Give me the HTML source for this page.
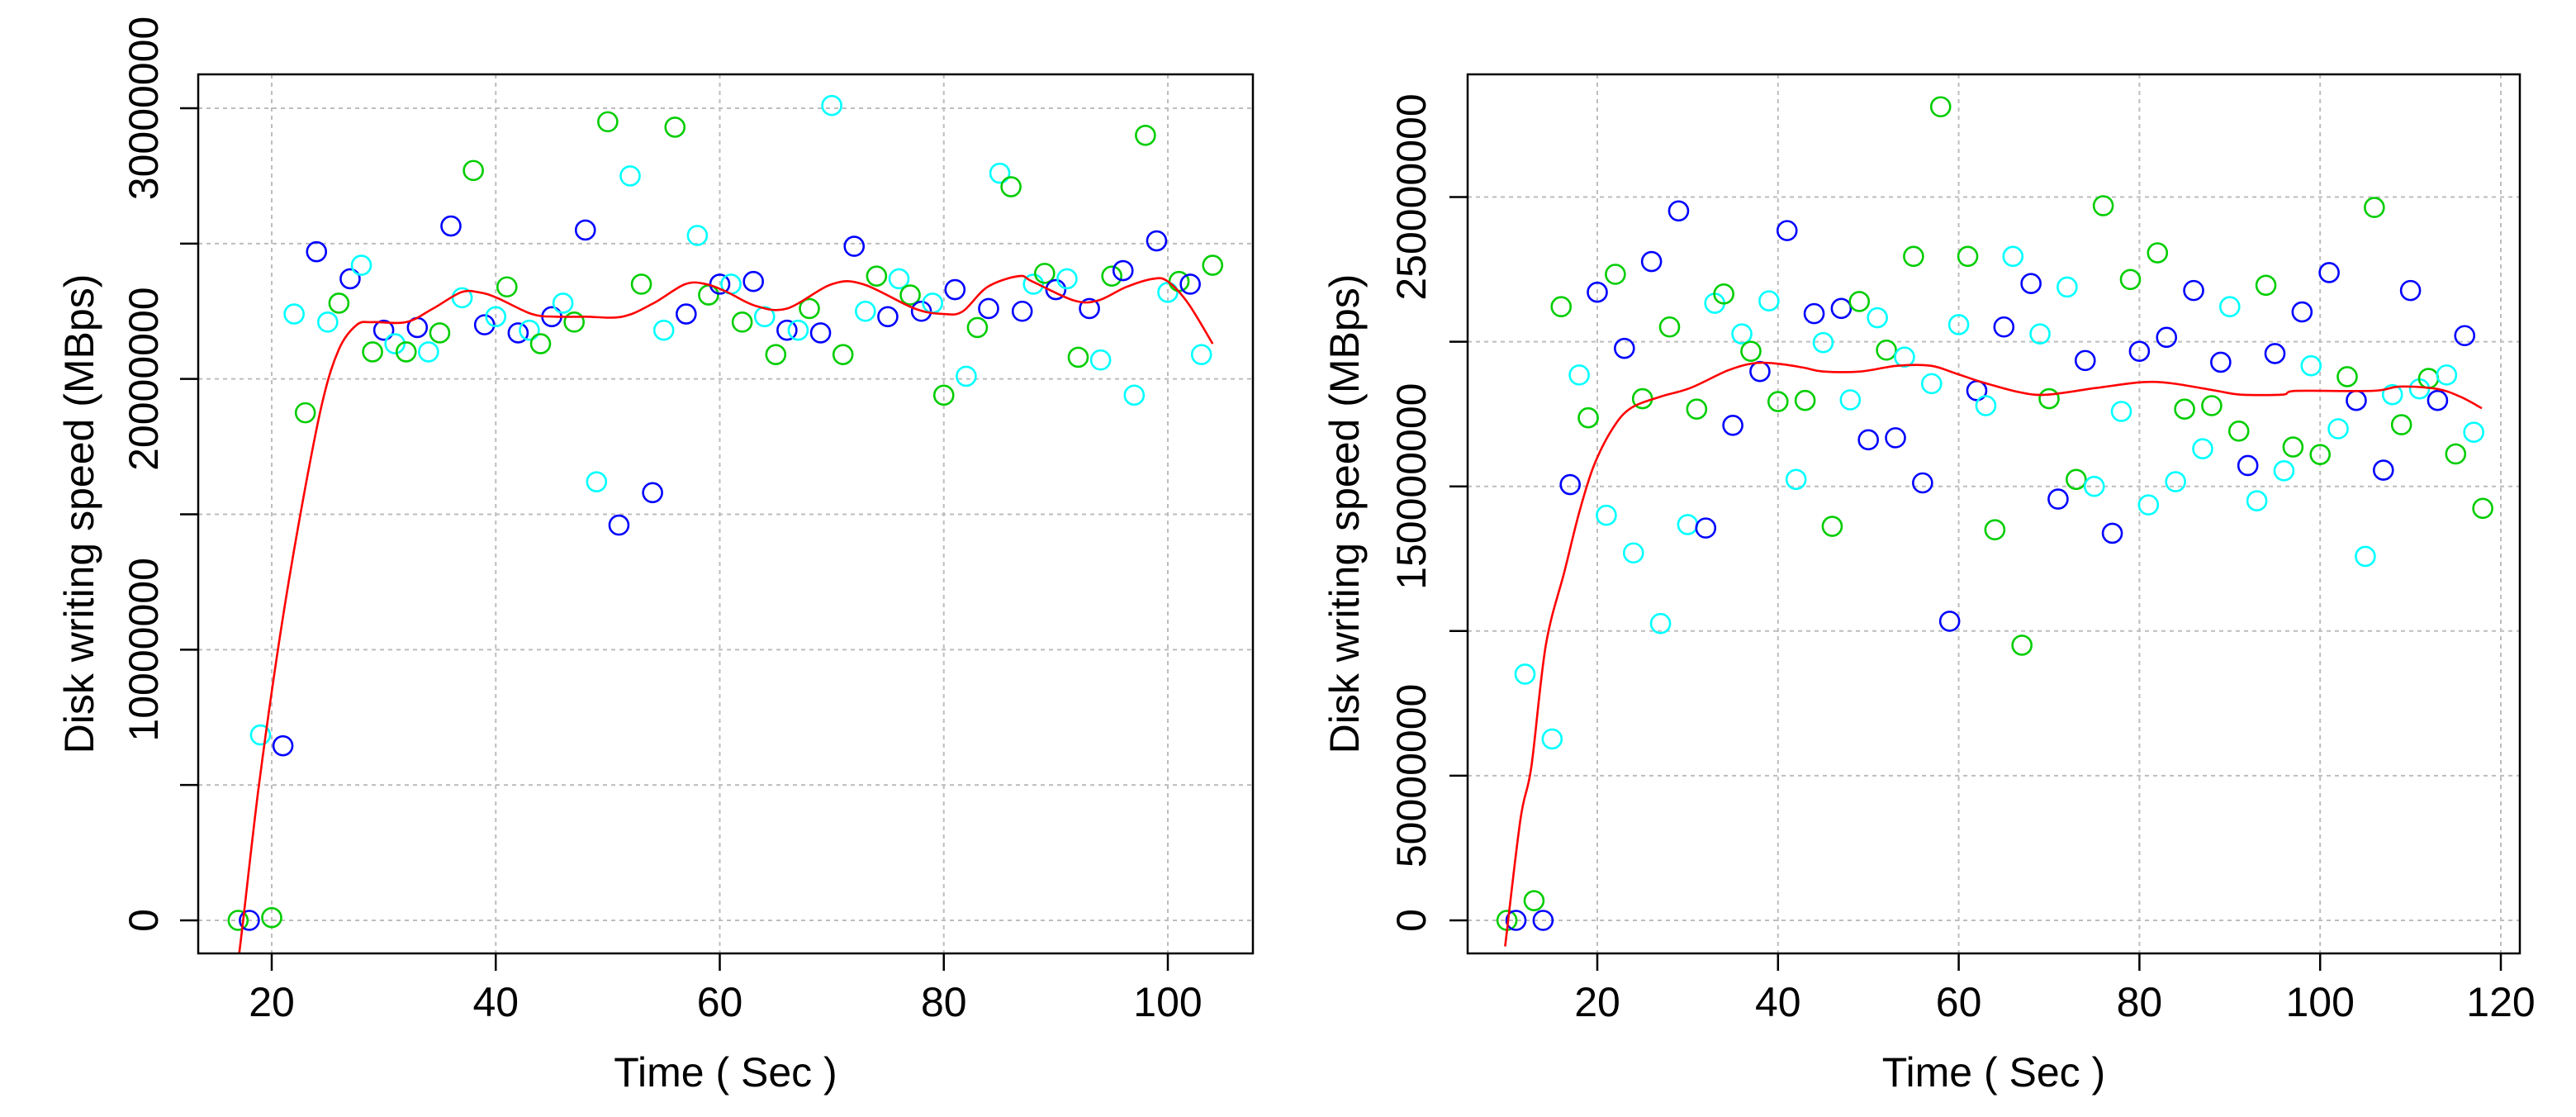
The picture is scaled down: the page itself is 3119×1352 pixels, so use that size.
<!DOCTYPE html>
<html><head><meta charset="utf-8"><style>
html,body{margin:0;padding:0;background:#fff;}
svg{display:block;font-family:"Liberation Sans",Arial,sans-serif;}
</style></head><body>
<svg id="fig" width="3119" height="1352" viewBox="0 0 3119 1352" xmlns="http://www.w3.org/2000/svg"></svg>
<script>
// ---- Left chart data ----
const leftX = [];
for (let t = 17; t <= 104; t++) leftX.push(t);
const leftY = [0,0,6.85,0.1,6.45,22.4,18.75,24.7,22.1,22.8,23.7,24.2,21.0,21.8,21.3,21.0,21.9,21.0,21.7,25.65,23.0,27.7,22.0,22.3,23.4,21.7,21.8,21.3,22.3,22.8,22.1,25.5,16.2,29.5,14.6,27.5,23.5,15.8,21.8,29.3,22.4,25.3,23.1,23.5,23.5,22.1,23.6,22.3,20.9,21.8,21.8,22.6,21.7,30.1,20.9,24.9,22.5,23.8,22.3,23.7,23.1,22.5,22.8,19.4,23.3,20.1,21.9,22.6,27.6,27.1,22.5,23.5,23.9,23.3,23.7,20.8,22.6,20.7,23.8,24.0,19.4,29.0,25.1,23.2,23.6,23.5,20.9,24.2];
const leftCurveX = [16.5,17.1,18.8,20.7,22.6,24.5,26,27.6,29,32,34.4,36.9,38.5,40.1,43.2,45.4,48,51.3,54.1,56.9,58.8,60.7,63.2,66,70,72.8,77.4,80,81.7,83.9,86.7,87.9,91.6,93.8,96.3,98.7,100,101.8,104];
const leftCurveY = [-2.5,-1.2,4.8,10.4,15.1,19.1,21.1,22.0,22.1,22.1,22.6,23.2,23.2,23.0,22.4,22.3,22.3,22.3,22.8,23.5,23.5,23.2,22.7,22.6,23.5,23.5,22.6,22.4,22.5,23.4,23.8,23.6,22.9,22.9,23.4,23.7,23.6,22.8,21.3];
const leftYTicks = [0,5,10,15,20,25,30];
const leftYLabels = ["0","","10000000","","20000000","","30000000"];
const leftXTicks = [20,40,60,80,100];

// ---- Right chart data ----
const rightX = [];
for (let t = 10; t <= 118; t++) rightX.push(t);
const rightY = [0,0,85.1,6.8,0,62.7,212.1,150.6,188.5,173.7,217.1,140,223.3,197.7,127,180.3,227.7,102.6,205.1,245.2,136.8,176.7,135.6,213.3,216.5,171.1,202.7,196.7,189.7,214.1,179.3,238.4,152.4,179.7,209.7,199.7,136.2,211.5,179.9,213.9,166.1,208.3,197.1,166.8,194.7,229.5,151.2,185.5,281.2,103.4,205.9,229.5,183.1,177.9,135,205.1,229.5,95.1,220.1,202.7,180.3,145.6,218.9,152.4,193.5,150,247,133.8,175.9,221.5,196.7,143.6,230.7,201.5,151.6,176.7,217.7,163,177.9,192.9,212.1,169.1,157.2,145,219.5,195.9,155.4,163.6,210.3,191.7,161,223.9,169.9,187.9,179.7,125.8,246.4,155.6,181.7,171.3,217.7,183.7,187.3,179.7,188.5,161.2,202.1,168.7,142.4];
const rightCurveX = [9.8,11.5,12.7,14.3,16.4,18,19.6,21.7,23.7,27,30.3,34.4,37.2,39.7,42.9,45,49.1,53.2,56.9,59.7,62.6,66.8,69.8,75.2,80.3,83.6,88.6,91.2,95.8,97.4,105.8,108.8,112.9,115.5,117.9];
const rightCurveY = [-9,35,53,95,121,141,157,170,177,181,184,190,192.5,192.5,191,189.7,189.7,191.7,191.7,189,186,182.5,181.7,184,186,185.6,183,181.7,181.7,183,183,184.5,183.7,181,177];
const rightYTicks = [0,50,100,150,200,250];
const rightYLabels = ["0","50000000","","150000000","","250000000"];
const rightXTicks = [20,40,60,80,100,120];

const colors = ["#00cd00","#0000ff","#00ffff"];
const NS = "http://www.w3.org/2000/svg";
const svg = document.getElementById("fig");
function mk(tag, attrs, parent){
  const e = document.createElementNS(NS, tag);
  for (const k in attrs) e.setAttribute(k, attrs[k]);
  (parent||svg).appendChild(e);
  return e;
}
function smoothPath(P){
  let d = "M" + P[0][0].toFixed(1) + "," + P[0][1].toFixed(1);
  for (let i = 0; i < P.length - 1; i++) {
    const p0 = P[Math.max(0, i - 1)], p1 = P[i], p2 = P[i + 1], p3 = P[Math.min(P.length - 1, i + 2)];
    const c1x = p1[0] + (p2[0] - p0[0]) / 6, c1y = p1[1] + (p2[1] - p0[1]) / 6;
    const c2x = p2[0] - (p3[0] - p1[0]) / 6, c2y = p2[1] - (p3[1] - p1[1]) / 6;
    d += "C" + c1x.toFixed(1) + "," + c1y.toFixed(1) + " " + c2x.toFixed(1) + "," + c2y.toFixed(1) + " " + p2[0].toFixed(1) + "," + p2[1].toFixed(1);
  }
  return d;
}

function drawChart(cfg){
  const g = mk("g", {});
  
  
  const sx = v => cfg.x0px + (v - cfg.x0v) * cfg.xs;
  const sy = v => cfg.y0px - v * cfg.ys;
  const clipId = cfg.name + "-clip";
  const defs = mk("defs", {}, g);
  const cp = mk("clipPath", {id: clipId}, defs);
  mk("rect", {x: cfg.L, y: cfg.T, width: cfg.R - cfg.L, height: cfg.B - cfg.T}, cp);
  const grid = mk("g", {stroke:"#bdbdbd","stroke-width":2,"stroke-dasharray":"5,5"}, g);
  
  
  cfg.yTicks.forEach(v => mk("line", {x1: cfg.L, x2: cfg.R, y1: sy(v), y2: sy(v)}, grid));
  cfg.xTicks.forEach(v => mk("line", {x1: sx(v), x2: sx(v), y1: cfg.T, y2: cfg.B}, grid));
  const pts = mk("g", {fill:"none","stroke-width":2.6}, g);
  
  
  cfg.xs_.forEach((xv, i) => {
    const c = mk("circle", {cx: sx(xv), cy: sy(cfg.ys_[i]), r: 11.5, stroke: colors[i % 3]}, pts);
    
    
  });
  const P = cfg.cx.map((xv, i) => [sx(xv), sy(cfg.cy[i])]);
  const path = mk("path", {d: smoothPath(P), fill:"none", stroke:"#ff0000","stroke-width":2.6,"clip-path":"url(#"+clipId+")"}, g);
  
  
  const fr = mk("rect", {x: cfg.L, y: cfg.T, width: cfg.R - cfg.L, height: cfg.B - cfg.T, fill:"none", stroke:"#000","stroke-width":2.5}, g);
  
  
  const xa = mk("g", {}, g);
  
  
  cfg.xTicks.forEach(v => {
    mk("line", {x1: sx(v), x2: sx(v), y1: cfg.B, y2: cfg.B + 21, stroke:"#000","stroke-width":2.5}, xa);
    const t = mk("text", {x: sx(v), y: 1230, "text-anchor":"middle","font-size":50, fill:"#000"}, xa);
    t.textContent = v;
    
    
  });
  const xt = mk("text", {x: (cfg.L + cfg.R) / 2, y: 1315, "text-anchor":"middle","font-size":50, fill:"#000"}, g);
  xt.textContent = "Time ( Sec )";
  
  
  const ya = mk("g", {}, g);
  
  
  cfg.yTicks.forEach((v, i) => {
    mk("line", {x1: cfg.L - 22, x2: cfg.L, y1: sy(v), y2: sy(v), stroke:"#000","stroke-width":2.5}, ya);
    if (cfg.yLabels[i]) {
      const t = mk("text", {x: 0, y: 0, "text-anchor":"middle","font-size":50, fill:"#000",
        transform: "translate(" + cfg.labX + "," + sy(v) + ") rotate(-90)"}, ya);
      t.textContent = cfg.yLabels[i];
      
      
    }
  });
  const yt = mk("text", {x:0, y:0, "text-anchor":"middle","font-size":50, fill:"#000",
    transform: "translate(" + cfg.titleX + "," + ((cfg.T + cfg.B) / 2) + ") rotate(-90)"}, g);
  yt.textContent = "Disk writing speed (MBps)";
  
  
}

drawChart({name:"left-chart", L:240, R:1517, T:90, B:1154,
  x0v:20, x0px:329, xs:(1414-329)/80, y0px:1114, ys:(1114-131)/30,
  xTicks:leftXTicks, yTicks:leftYTicks, yLabels:leftYLabels,
  xs_:leftX, ys_:leftY, cx:leftCurveX, cy:leftCurveY, labX:191, titleX:113});
drawChart({name:"right-chart", L:1777, R:3051, T:90, B:1154,
  x0v:20, x0px:1934, xs:(3028-1934)/100, y0px:1114, ys:(1114-238.5)/250,
  xTicks:rightXTicks, yTicks:rightYTicks, yLabels:rightYLabels,
  xs_:rightX, ys_:rightY, cx:rightCurveX, cy:rightCurveY, labX:1726, titleX:1645});
</script>
</body></html>
